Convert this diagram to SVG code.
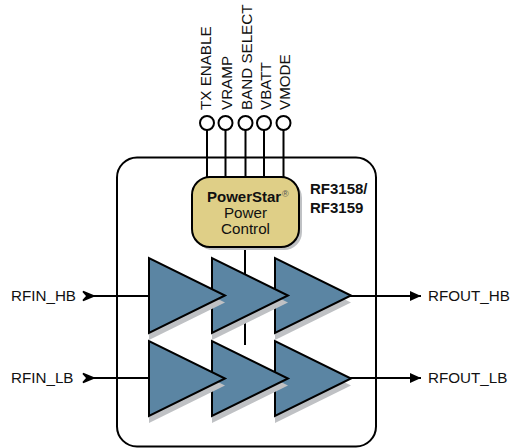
<svg xmlns="http://www.w3.org/2000/svg" width="510" height="448" viewBox="0 0 510 448">
<defs>
<style>
text{font-family:"Liberation Sans",Arial,sans-serif;font-size:15.200px;fill:#111}
.b{font-weight:bold;font-size:15px}
.w{fill:none;stroke:#000;stroke-width:2}
.pin{fill:#fff;stroke:#000;stroke-width:2}
.amp{fill:#5b85a3;stroke:#000;stroke-width:2;stroke-linejoin:miter}
.sh{fill:#bfc1c4}
</style>
<marker id="arr" markerUnits="userSpaceOnUse" markerWidth="12" markerHeight="10" refX="11" refY="5" orient="auto"><path d="M0 0L11 5L0 10Z" fill="#000"/></marker>
<polygon id="tri" points="0,0 0,75 76,37.500"/>
</defs>
<rect width="510" height="448" fill="#fff"/>
<g id="package"><rect x="117" y="157.500" width="259" height="289" rx="20" fill="#fff" stroke="#000" stroke-width="2"/></g>
<g id="connectors">
<path class="w" d="M207 130V178M225.500 130V178M245.500 130V178M264 130V178M283.500 130V178"/>
<path class="w" d="M245 248V345"/>
<path class="w" d="M86 296H150M86 378H150"/>
<path class="w" marker-end="url(#arr)" d="M350 296H421"/>
<path class="w" marker-end="url(#arr)" d="M350 378H421"/>
</g>
<g id="pin-tx-enable"><circle class="pin" cx="207" cy="123" r="7"/><text transform="translate(211 110) rotate(-90)">TX ENABLE</text></g>
<g id="pin-vramp"><circle class="pin" cx="225.500" cy="123" r="7"/><text transform="translate(231.500 110) rotate(-90)">VRAMP</text></g>
<g id="pin-band-select"><circle class="pin" cx="245.500" cy="123" r="7"/><text transform="translate(252 110) rotate(-90)">BAND SELECT</text></g>
<g id="pin-vbatt"><circle class="pin" cx="264" cy="123" r="7"/><text transform="translate(270.500 110) rotate(-90)">VBATT</text></g>
<g id="pin-vmode"><circle class="pin" cx="283.500" cy="123" r="7"/><text transform="translate(290 110) rotate(-90)">VMODE</text></g>
<g id="power-control">
<rect x="195" y="180" width="107" height="70" rx="18" class="sh"/>
<rect x="192" y="177" width="107" height="70" rx="18" fill="#dfcf87" stroke="#000" stroke-width="2"/>
<text class="b" x="207" y="202">PowerStar</text>
<text x="282" y="197" style="font-size:9px;fill:#555">®</text>
<text x="245.500" y="218" text-anchor="middle">Power</text>
<text x="245.500" y="234" text-anchor="middle">Control</text>
</g>
<g id="part-label"><text class="b" x="310" y="194">RF3158/</text><text class="b" x="310" y="213">RF3159</text></g>
<g id="amp-hb-3"><use href="#tri" x="275" y="265" class="sh"/><use href="#tri" x="275" y="258" class="amp"/></g>
<g id="amp-hb-2"><use href="#tri" x="212" y="265" class="sh"/><use href="#tri" x="212" y="258" class="amp"/></g>
<g id="amp-hb-1"><use href="#tri" x="149" y="265" class="sh"/><use href="#tri" x="149" y="258" class="amp"/></g>
<g id="amp-lb-3"><use href="#tri" x="275" y="348" class="sh"/><use href="#tri" x="275" y="341" class="amp"/></g>
<g id="amp-lb-2"><use href="#tri" x="212" y="348" class="sh"/><use href="#tri" x="212" y="341" class="amp"/></g>
<g id="amp-lb-1"><use href="#tri" x="149" y="348" class="sh"/><use href="#tri" x="149" y="341" class="amp"/></g>
<g id="rfin-hb"><text x="11" y="301">RFIN_HB</text><path d="M83 291.500L94 296L83 300.500L87 296Z" fill="#000" stroke="#000" stroke-width="1.500"/></g>
<g id="rfin-lb"><text x="11" y="383">RFIN_LB</text><path d="M83 373.500L94 378L83 382.500L87 378Z" fill="#000" stroke="#000" stroke-width="1.500"/></g>
<g id="rfout-hb"><text x="428" y="301">RFOUT_HB</text></g>
<g id="rfout-lb"><text x="428" y="383">RFOUT_LB</text></g>
</svg>
